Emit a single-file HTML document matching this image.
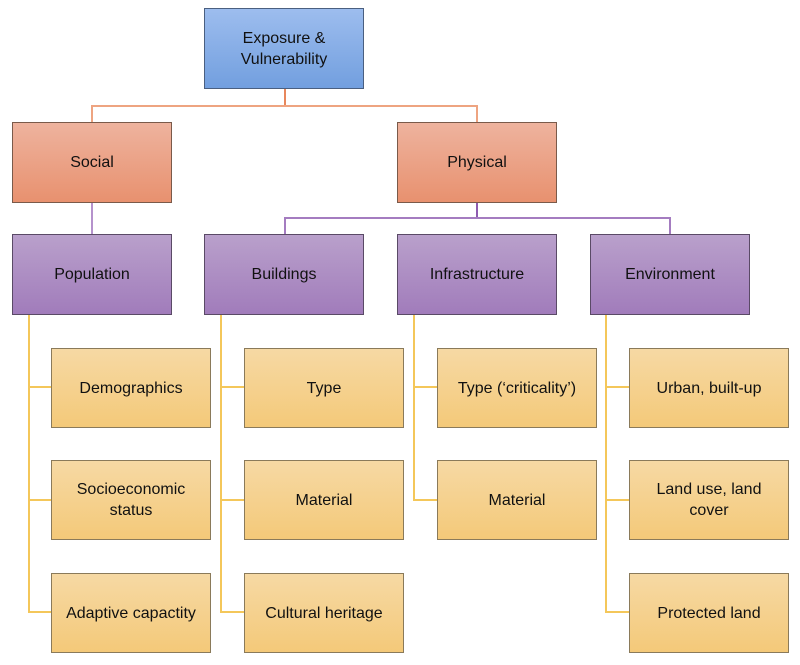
<!DOCTYPE html>
<html><head><style>
body{margin:0;width:800px;height:665px;background:#fff;position:relative;overflow:hidden;font-family:"Liberation Sans",sans-serif;}
.b{position:absolute;box-sizing:border-box;display:flex;align-items:center;justify-content:center;text-align:center;font-size:16px;color:#111;line-height:21px;border:1px solid #555;}
.t{background:linear-gradient(#9dbdee,#729fdf);border-color:#4a5f80}
.o{background:linear-gradient(#eeb39e,#e8916f);border-color:#7a5a4a;width:160px;height:81px}
.p{background:linear-gradient(#b9a0cb,#a17cbb);border-color:#5a4a66;width:160px;height:81px}
.y{background:linear-gradient(#f6d9a4,#f4c979);border-color:#8a7a5a;width:160px;height:80px}
.l{position:absolute;}
</style></head><body>
<div class="l" style="left:284px;top:88px;width:2px;height:19px;background:#e8875c"></div>
<div class="l" style="left:91px;top:105px;width:387px;height:2px;background:#eea481"></div>
<div class="l" style="left:91px;top:105px;width:2px;height:18px;background:#eea481"></div>
<div class="l" style="left:476px;top:105px;width:2px;height:18px;background:#eea481"></div>
<div class="l" style="left:91px;top:202px;width:2px;height:33px;background:#b592cc"></div>
<div class="l" style="left:476px;top:202px;width:2px;height:17px;background:#8e5bb0"></div>
<div class="l" style="left:284px;top:217px;width:386px;height:2px;background:#a47cc0"></div>
<div class="l" style="left:284px;top:217px;width:2px;height:18px;background:#a47cc0"></div>
<div class="l" style="left:669px;top:217px;width:2px;height:18px;background:#a47cc0"></div>
<div class="l" style="left:28px;top:314px;width:2px;height:299px;background:#f4c75a"></div>
<div class="l" style="left:28px;top:386px;width:24px;height:2px;background:#f4c75a"></div>
<div class="l" style="left:28px;top:499px;width:24px;height:2px;background:#f4c75a"></div>
<div class="l" style="left:28px;top:611px;width:24px;height:2px;background:#f4c75a"></div>
<div class="l" style="left:220px;top:314px;width:2px;height:299px;background:#f4c75a"></div>
<div class="l" style="left:220px;top:386px;width:25px;height:2px;background:#f4c75a"></div>
<div class="l" style="left:220px;top:499px;width:25px;height:2px;background:#f4c75a"></div>
<div class="l" style="left:220px;top:611px;width:25px;height:2px;background:#f4c75a"></div>
<div class="l" style="left:413px;top:314px;width:2px;height:187px;background:#f4c75a"></div>
<div class="l" style="left:413px;top:386px;width:25px;height:2px;background:#f4c75a"></div>
<div class="l" style="left:413px;top:499px;width:25px;height:2px;background:#f4c75a"></div>
<div class="l" style="left:605px;top:314px;width:2px;height:299px;background:#f4c75a"></div>
<div class="l" style="left:605px;top:386px;width:25px;height:2px;background:#f4c75a"></div>
<div class="l" style="left:605px;top:499px;width:25px;height:2px;background:#f4c75a"></div>
<div class="l" style="left:605px;top:611px;width:25px;height:2px;background:#f4c75a"></div>
<div class="b t" style="left:204px;top:8px;width:160px;height:81px">Exposure &amp;<br>Vulnerability</div>
<div class="b o" style="left:12px;top:122px">Social</div>
<div class="b o" style="left:397px;top:122px">Physical</div>
<div class="b p" style="left:12px;top:234px">Population</div>
<div class="b p" style="left:204px;top:234px">Buildings</div>
<div class="b p" style="left:397px;top:234px">Infrastructure</div>
<div class="b p" style="left:590px;top:234px">Environment</div>
<div class="b y" style="left:51px;top:348px">Demographics</div>
<div class="b y" style="left:51px;top:460px">Socioeconomic<br>status</div>
<div class="b y" style="left:51px;top:573px">Adaptive capactity</div>
<div class="b y" style="left:244px;top:348px">Type</div>
<div class="b y" style="left:244px;top:460px">Material</div>
<div class="b y" style="left:244px;top:573px">Cultural heritage</div>
<div class="b y" style="left:437px;top:348px">Type (‘criticality’)</div>
<div class="b y" style="left:437px;top:460px">Material</div>
<div class="b y" style="left:629px;top:348px">Urban, built-up</div>
<div class="b y" style="left:629px;top:460px">Land use, land<br>cover</div>
<div class="b y" style="left:629px;top:573px">Protected land</div>
</body></html>
